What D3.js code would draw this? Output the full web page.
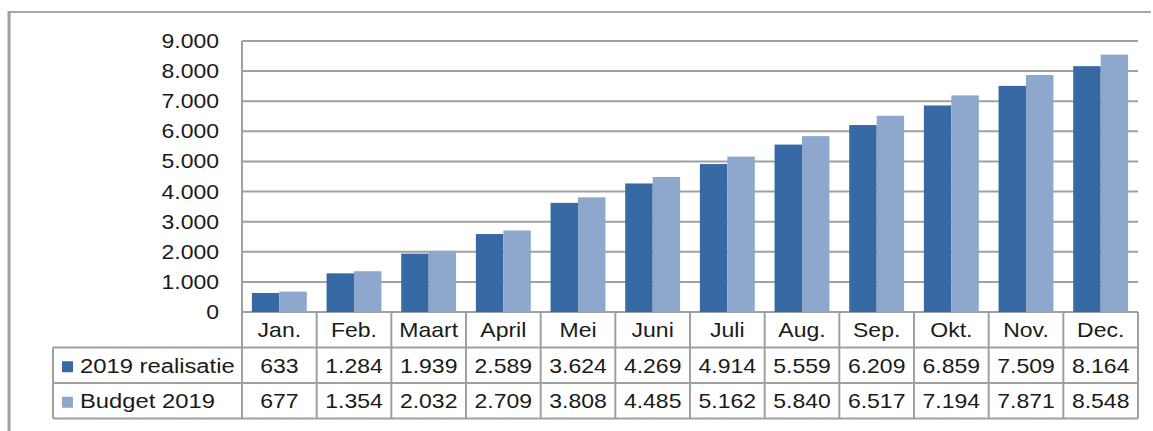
<!DOCTYPE html>
<html>
<head>
<meta charset="utf-8">
<script src="https://cdn.jsdelivr.net/npm/d3@7"></script>
<style>
  body { margin: 0; background: #fff; }
  svg { display: block; font-family: "Liberation Sans", Arial, sans-serif; }
</style>
</head>
<body>
<div id="chart"></div>
<script>
const months = ['Jan.', 'Feb.', 'Maart', 'April', 'Mei', 'Juni', 'Juli', 'Aug.', 'Sep.', 'Okt.', 'Nov.', 'Dec.'];
const realisatie = [633, 1284, 1939, 2589, 3624, 4269, 4914, 5559, 6209, 6859, 7509, 8164];
const budget = [677, 1354, 2032, 2709, 3808, 4485, 5162, 5840, 6517, 7194, 7871, 8548];
const seriesNames = ['2019 realisatie', 'Budget 2019'];
const seriesColors = ['#376aa5', '#8ea7cd'];
const yTicks = [0, 1000, 2000, 3000, 4000, 5000, 6000, 7000, 8000, 9000];

const W = 1153, H = 431;
const plot = { left: 242, right: 1138, top: 41, bottom: 312 };
const rowH = 35.5;
const legendLeft = 53;
const gridColor = '#a0a0a0';
const fontSize = 20;
const stretch = 1.15;

const fmt = v => d3.format(',')(v).replace(/,/g, '.');

const svg = d3.select('#chart').append('svg')
    .attr('width', W)
    .attr('height', H);

// stretched text, like the original export
function label(parent, tx, ty, txt, anchor, sx) {
    return parent.append('text')
        .attr('transform', `translate(${tx},${ty}) scale(${sx || stretch},1)`)
        .attr('text-anchor', anchor || 'middle')
        .attr('font-size', fontSize)
        .attr('fill', '#1a1a1a')
        .text(txt);
}

// outer frame (top + left only)
svg.append('line').attr('x1', 8).attr('x2', 1151).attr('y1', 12).attr('y2', 12)
    .attr('stroke', '#a8a8a8').attr('stroke-width', 2);
svg.append('line').attr('x1', 9).attr('x2', 9).attr('y1', 11).attr('y2', H)
    .attr('stroke', '#a0a0a0').attr('stroke-width', 3);

const x = d3.scaleBand()
    .domain(months)
    .range([plot.left, plot.right])
    .paddingInner(0)
    .paddingOuter(0);
const x1 = d3.scaleBand()
    .domain([0, 1])
    .range([0, x.bandwidth()])
    .paddingInner(0)
    .paddingOuter(0.36);
const y = d3.scaleLinear()
    .domain([0, 9000])
    .range([plot.bottom, plot.top]);

// gridlines
svg.append('g')
    .selectAll('line')
    .data(yTicks)
    .enter().append('line')
    .attr('x1', plot.left)
    .attr('x2', plot.right)
    .attr('y1', d => y(d))
    .attr('y2', d => y(d))
    .attr('stroke', gridColor)
    .attr('stroke-width', 2);

svg.append('line')
    .attr('x1', plot.left).attr('x2', plot.left)
    .attr('y1', plot.top).attr('y2', plot.bottom)
    .attr('stroke', gridColor).attr('stroke-width', 2);

// y axis labels
const yg = svg.append('g');
yTicks.forEach(t => label(yg, 219, y(t) + 7, fmt(t), 'end'));

// bars
const series = [realisatie, budget];
series.forEach((vals, si) => {
    svg.append('g')
        .selectAll('rect')
        .data(vals)
        .enter().append('rect')
        .attr('x', (d, i) => x(months[i]) + x1(si))
        .attr('width', x1.bandwidth())
        .attr('y', d => y(d))
        .attr('height', d => y(0) - y(d))
        .attr('fill', seriesColors[si]);
});

// data table
const table = svg.append('g');
const rowsTop = plot.bottom;
const tableBottom = rowsTop + rowH * 3;

months.forEach(m => {
    label(table, x(m) + x.bandwidth() / 2, rowsTop + rowH / 2 + 7.5, m);
});

series.forEach((vals, si) => {
    const ry = rowsTop + rowH * (si + 1);
    vals.forEach((v, i) => {
        label(table, x(months[i]) + x.bandwidth() / 2, ry + rowH / 2 + 7.5, fmt(v));
    });
    table.append('rect')
        .attr('x', legendLeft + 9)
        .attr('y', ry + rowH / 2 - 4)
        .attr('width', 11)
        .attr('height', 11)
        .attr('fill', seriesColors[si]);
    label(table, legendLeft + 27, ry + rowH / 2 + 7.5, seriesNames[si], 'start', 1.19);
});

// table grid lines
const lineStyle = sel => sel.attr('stroke', gridColor).attr('stroke-width', 2);
[1, 2, 3].forEach(r => {
    lineStyle(table.append('line')
        .attr('x1', legendLeft)
        .attr('x2', plot.right)
        .attr('y1', rowsTop + rowH * r)
        .attr('y2', rowsTop + rowH * r));
});
lineStyle(table.append('line')
    .attr('x1', legendLeft).attr('x2', legendLeft)
    .attr('y1', rowsTop + rowH).attr('y2', tableBottom));
months.forEach(m => {
    lineStyle(table.append('line')
        .attr('x1', x(m)).attr('x2', x(m))
        .attr('y1', rowsTop).attr('y2', tableBottom));
});
lineStyle(table.append('line')
    .attr('x1', plot.right).attr('x2', plot.right)
    .attr('y1', rowsTop).attr('y2', tableBottom));
</script>
</body>
</html>
